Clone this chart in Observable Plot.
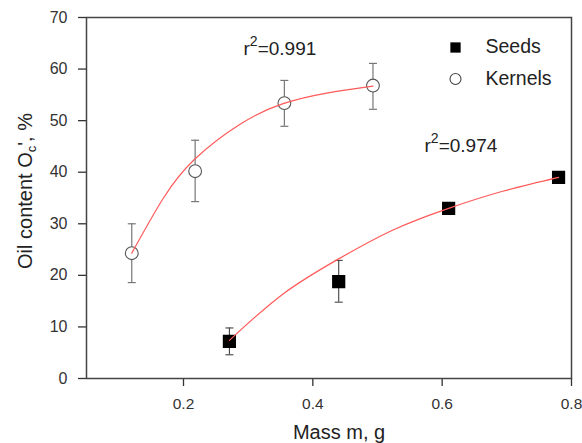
<!DOCTYPE html>
<html><head><meta charset="utf-8">
<script src="https://cdn.jsdelivr.net/npm/d3@7"></script>
<script src="https://cdn.jsdelivr.net/npm/@observablehq/plot@0.6"></script>
<style>
html,body{margin:0;padding:0;background:#fff;}
#chart svg{display:block;}
</style></head><body><div id="chart"></div>
<script>
// ---- data ----
const seedMass   = [0.271, 0.440, 0.610, 0.780];
const seedOil    = [7.2, 18.8, 33.0, 39.0];
const seedErrLo  = [4.6, 14.8, null, null];
const seedErrHi  = [9.8, 22.9, null, null];

const kernelMass  = [0.120, 0.218, 0.356, 0.493];
const kernelOil   = [24.3, 40.2, 53.4, 56.8];
const kernelErrLo = [18.6, 34.3, 48.9, 52.2];
const kernelErrHi = [30.0, 46.2, 57.8, 61.1];

// fitted curves, points
const seedFitMass   = [0.271, 0.354, 0.440, 0.524, 0.610, 0.6935, 0.780];
const seedFitOil    = [7.4, 16.4, 23.2, 28.8, 33.0, 36.3, 39.0];
const kernelFitMass = [0.120, 0.169, 0.218, 0.2875, 0.354, 0.4236, 0.493];
const kernelFitOil  = [24.3, 35.0, 42.6, 49.3, 53.3, 55.4, 56.7];

const xTicks = [0.2, 0.4, 0.6, 0.8];
const yTicks = [0, 10, 20, 30, 40, 50, 60, 70];
const legendLabels = ["Seeds", "Kernels"];
const r2Values = ["0.991", "0.974"];
const xLabel = "Mass m, g";
const yLabelParts = ["Oil content O", "c", "', %"];

// ---- tables ----
const seeds = seedMass.map((m, i) => ({m, oil: seedOil[i], lo: seedErrLo[i], hi: seedErrHi[i]}));
const kernels = kernelMass.map((m, i) => ({m, oil: kernelOil[i], lo: kernelErrLo[i], hi: kernelErrHi[i]}));
const seedErr = seeds.filter(d => d.lo != null);
const kernelErr = kernels.filter(d => d.lo != null);
const seedFit = seedFitMass.map((m, i) => ({m, oil: seedFitOil[i]}));
const kernelFit = kernelFitMass.map((m, i) => ({m, oil: kernelFitOil[i]}));

const font = "'Liberation Sans', Arial, Helvetica, sans-serif";
const cap = {draw(ctx) { ctx.moveTo(-4, 0); ctx.lineTo(4, 0); }};
const yLabelFull = yLabelParts.join("");
const r2Text = v => "r2=" + v;

const plot = Plot.plot({
  width: 582, height: 443,
  marginLeft: 86, marginRight: 11, marginTop: 17, marginBottom: 65,
  style: {fontFamily: font, background: "#fff", color: "#333"},
  x: {domain: [0.05, 0.8]},
  y: {domain: [0, 70]},
  marks: [
    Plot.axisX({ticks: xTicks, tickFormat: d => d.toFixed(1), tickSize: 8, tickPadding: 11, fontSize: 15.5, label: null, strokeWidth: 1.3}),
    Plot.axisY({ticks: yTicks, tickSize: 8, tickPadding: 11, fontSize: 16, label: null, strokeWidth: 1.3}),
    Plot.frame({stroke: "#444", strokeWidth: 1.5}),
    // error bars
    Plot.ruleX(kernelErr, {x: "m", y1: "lo", y2: "hi", stroke: "#777", strokeWidth: 1.2}),
    Plot.dot(kernelErr, {x: "m", y: "lo", symbol: cap, stroke: "#777", strokeWidth: 1.2}),
    Plot.dot(kernelErr, {x: "m", y: "hi", symbol: cap, stroke: "#777", strokeWidth: 1.2}),
    Plot.ruleX(seedErr, {x: "m", y1: "lo", y2: "hi", stroke: "#444", strokeWidth: 1.1}),
    Plot.dot(seedErr, {x: "m", y: "lo", symbol: cap, stroke: "#444", strokeWidth: 1.1}),
    Plot.dot(seedErr, {x: "m", y: "hi", symbol: cap, stroke: "#444", strokeWidth: 1.1}),
    // markers
    Plot.dot(kernels, {x: "m", y: "oil", r: 6.4, fill: "#fff", stroke: "#555", strokeWidth: 1.1}),
    Plot.dot(seeds, {x: "m", y: "oil", symbol: "square", r: 6.6, fill: "#000", stroke: "#000"}),
    // fitted curves
    Plot.line(kernelFit, {x: "m", y: "oil", curve: "natural", stroke: "#ff5a5a", strokeWidth: 1.2}),
    Plot.line(seedFit, {x: "m", y: "oil", curve: "natural", stroke: "#ff5a5a", strokeWidth: 1.2}),
    // legend
    Plot.dot([legendLabels[0]], {frameAnchor: "top-right", dx: -116, dy: 30, symbol: "square", r: 5.8, fill: "#000"}),
    Plot.dot([legendLabels[1]], {frameAnchor: "top-right", dx: -116, dy: 61.5, r: 5.5, fill: "#fff", stroke: "#444", strokeWidth: 1.1}),
    Plot.text([legendLabels[0]], {frameAnchor: "top-right", dx: -86, dy: 29.3, text: d => d, textAnchor: "start", lineAnchor: "middle", fontSize: 19.5, fill: "#222"}),
    Plot.text([legendLabels[1]], {frameAnchor: "top-right", dx: -86, dy: 61.3, text: d => d, textAnchor: "start", lineAnchor: "middle", fontSize: 19.5, fill: "#222"}),
    // r² annotations
    Plot.text([r2Values[0]], {frameAnchor: "top-left", dx: 157, dy: 31.3, text: r2Text, textAnchor: "start", lineAnchor: "middle", fontSize: 19, fill: "#222"}),
    Plot.text([r2Values[1]], {frameAnchor: "top-left", dx: 338, dy: 128, text: r2Text, textAnchor: "start", lineAnchor: "middle", fontSize: 19, fill: "#222"}),
    // axis titles
    Plot.text([xLabel], {frameAnchor: "bottom", dx: 10, dy: 60, text: d => d, lineAnchor: "bottom", fontSize: 20, fill: "#222"}),
    Plot.text([yLabelFull], {frameAnchor: "left", dx: -54.5, dy: -7, rotate: -90, text: d => d, textAnchor: "middle", lineAnchor: "bottom", fontSize: 20, fill: "#222"})
  ]
});

// sub/superscripts as real tspans
d3.select(plot).selectAll("text").each(function() {
  const el = d3.select(this);
  const s = this.textContent;
  if (s === yLabelFull) {
    el.text(null);
    el.append("tspan").text(yLabelParts[0]);
    el.append("tspan").attr("dy", 4).attr("font-size", 13).text(yLabelParts[1]);
    el.append("tspan").attr("dy", -4).text(yLabelParts[2]);
  } else if (r2Values.some(v => s === r2Text(v))) {
    const v = s.slice(3);
    el.text(null);
    el.append("tspan").text("r");
    el.append("tspan").attr("dy", -9).attr("font-size", 14).text("2");
    el.append("tspan").attr("dy", 9).text("=" + v);
  }
});

document.getElementById("chart").appendChild(plot);
</script>
</body></html>
